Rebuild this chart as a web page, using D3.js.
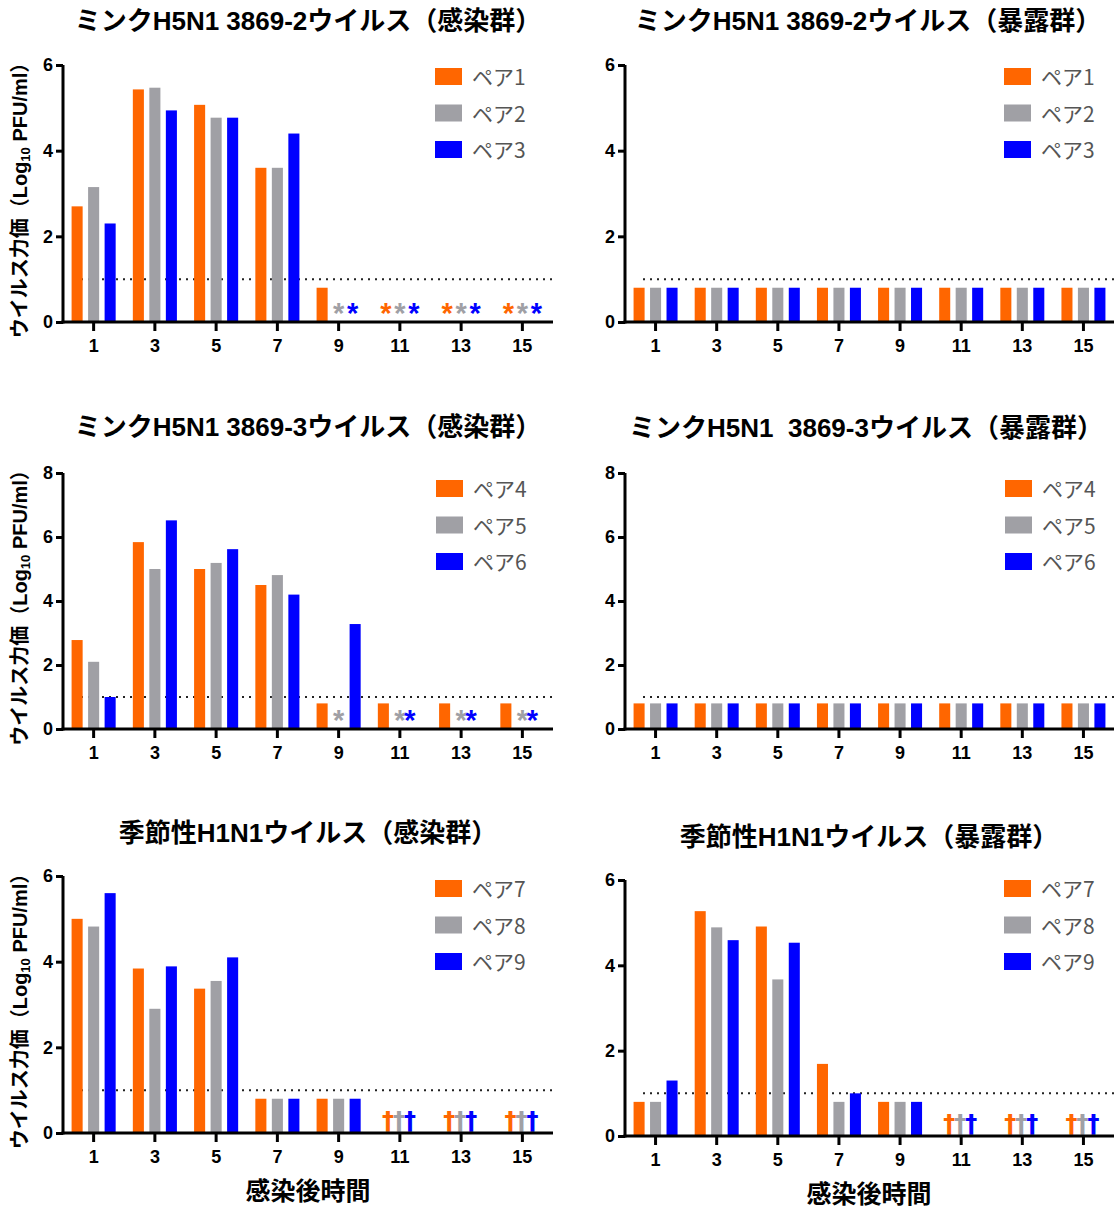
<!DOCTYPE html>
<html>
<head>
<meta charset="utf-8">
<script src="https://cdn.jsdelivr.net/npm/d3@7"></script>
<style>
  body { margin: 0; background: #fff; }
  svg { display: block; }
</style>
</head>
<body>
<script>
// days after infection
const days = [1, 3, 5, 7, 9, 11, 13, 15]
const colors = ["#ff6600", "#a0a0a5", "#0000ff"]

// mink H5N1 3869-2, infected (null = not detected, marker drawn)
const pairsA = ["ペア1", "ペア2", "ペア3"]
const infA1 = [2.7, 5.43, 5.07, 3.6, 0.8, null, null, null]
const infA2 = [3.15, 5.47, 4.77, 3.6, null, null, null, null]
const infA3 = [2.3, 4.94, 4.77, 4.4, null, null, null, null]
// mink H5N1 3869-2, exposed
const expA1 = [0.8, 0.8, 0.8, 0.8, 0.8, 0.8, 0.8, 0.8]
const expA2 = [0.8, 0.8, 0.8, 0.8, 0.8, 0.8, 0.8, 0.8]
const expA3 = [0.8, 0.8, 0.8, 0.8, 0.8, 0.8, 0.8, 0.8]

// mink H5N1 3869-3
const pairsB = ["ペア4", "ペア5", "ペア6"]
const infB1 = [2.78, 5.84, 5.0, 4.5, 0.8, 0.8, 0.8, 0.8]
const infB2 = [2.1, 5.0, 5.19, 4.81, null, null, null, null]
const infB3 = [1.0, 6.52, 5.62, 4.2, 3.28, null, null, null]
const expB1 = [0.8, 0.8, 0.8, 0.8, 0.8, 0.8, 0.8, 0.8]
const expB2 = [0.8, 0.8, 0.8, 0.8, 0.8, 0.8, 0.8, 0.8]
const expB3 = [0.8, 0.8, 0.8, 0.8, 0.8, 0.8, 0.8, 0.8]

// seasonal H1N1
const pairsC = ["ペア7", "ペア8", "ペア9"]
const infC1 = [5.0, 3.84, 3.37, 0.8, 0.8, null, null, null]
const infC2 = [4.82, 2.9, 3.55, 0.8, 0.8, null, null, null]
const infC3 = [5.6, 3.89, 4.1, 0.8, 0.8, null, null, null]
const expC1 = [0.8, 5.27, 4.91, 1.69, 0.8, null, null, null]
const expC2 = [0.8, 4.89, 3.67, 0.8, 0.8, null, null, null]
const expC3 = [1.3, 4.59, 4.53, 1.0, 0.8, null, null, null]

const limitOfDetection = 1
const yTicks6 = [0, 2, 4, 6]
const yTicks8 = [0, 2, 4, 6, 8]

const titles = [
    "ミンクH5N1 3869-2ウイルス（感染群）",
    "ミンクH5N1 3869-2ウイルス（暴露群）",
    "ミンクH5N1 3869-3ウイルス（感染群）",
    "ミンクH5N1  3869-3ウイルス（暴露群）",
    "季節性H1N1ウイルス（感染群）",
    "季節性H1N1ウイルス（暴露群）"
]
const xTitle = "感染後時間"

const latin = "'Liberation Sans', Arial, 'Noto Sans CJK JP', sans-serif"
const cjk = "'Liberation Sans', 'Noto Sans CJK JP', sans-serif"

const svg = d3.select("body").append("svg")
    .attr("width", 1114).attr("height", 1208)

const panels = [
    { series: [infA1, infA2, infA3], names: pairsA, yMax: 6, ticks: yTicks6, left: 63, right: 553, bottom: 322, top: 65,
      title: titles[0], titleX: 308, titleY: 30, mark: "*", markOff: [-14, 0, 14], yLabel: true, legendX: 435, legendY: 68 },
    { series: [expA1, expA2, expA3], names: pairsA, yMax: 6, ticks: yTicks6, left: 625, right: 1114, bottom: 322, top: 65,
      title: titles[1], titleX: 868, titleY: 30, mark: "*", markOff: [-14, 0, 14], yLabel: false, legendX: 1004, legendY: 68 },
    { series: [infB1, infB2, infB3], names: pairsB, yMax: 8, ticks: yTicks8, left: 63, right: 553, bottom: 729, top: 473,
      title: titles[2], titleX: 308, titleY: 436, mark: "*", markOff: [-10, 0, 10], yLabel: true, legendX: 436, legendY: 480 },
    { series: [expB1, expB2, expB3], names: pairsB, yMax: 8, ticks: yTicks8, left: 625, right: 1114, bottom: 729, top: 473,
      title: titles[3], titleX: 866, titleY: 437, mark: "*", markOff: [-10, 0, 10], yLabel: false, legendX: 1005, legendY: 480 },
    { series: [infC1, infC2, infC3], names: pairsC, yMax: 6, ticks: yTicks6, left: 63, right: 553, bottom: 1133, top: 876,
      title: titles[4], titleX: 308, titleY: 842, mark: "†", markOff: [-12, -1, 10], yLabel: true, xLabel: true, legendX: 435, legendY: 880 },
    { series: [expC1, expC2, expC3], names: pairsC, yMax: 6, ticks: yTicks6, left: 625, right: 1114, bottom: 1136, top: 880,
      title: titles[5], titleX: 869, titleY: 846, mark: "†", markOff: [-12, -1, 10], yLabel: false, xLabel: true, legendX: 1004, legendY: 880 }
]

panels.forEach(drawPanel)

function drawPanel(p) {
    let g = svg.append("g")
    let x = d3.scaleBand().domain(days).range([p.left, p.right])
    let sub = d3.scaleBand().domain([0, 1, 2]).range([0, x.bandwidth()])
        .paddingInner(0.33).paddingOuter(0.52)
    let y = d3.scaleLinear().domain([0, p.yMax]).range([p.bottom, p.top])

    // title
    g.append("text")
        .attr("x", p.titleX)
        .attr("y", p.titleY)
        .attr("text-anchor", "middle")
        .style("white-space", "pre")
        .style("font-family", cjk).style("font-weight", "bold").style("font-size", "26px")
        .text(p.title)

    // dotted limit line
    g.append("line")
        .attr("x1", p.left + 18).attr("x2", p.right)
        .attr("y1", y(limitOfDetection)).attr("y2", y(limitOfDetection))
        .attr("stroke", "#222").attr("stroke-width", 2)
        .attr("stroke-dasharray", "2,5")

    // bars
    p.series.forEach((vals, s) => {
        let rows = days.map((d, i) => ({ day: d, v: vals[i] }))
        g.selectAll(null)
            .data(rows.filter(r => r.v !== null)).enter()
            .append("rect")
            .attr("x", r => x(r.day) + sub(s))
            .attr("width", sub.bandwidth())
            .attr("y", r => y(r.v))
            .attr("height", r => y(0) - y(r.v))
            .attr("fill", colors[s])

        // markers for samples with no virus detected
        g.selectAll(null)
            .data(rows.filter(r => r.v === null)).enter()
            .append("text")
            .attr("x", r => x(r.day) + x.bandwidth() / 2 + p.markOff[s])
            .attr("y", p.mark === "*" ? p.bottom + 1 : p.bottom - 4)
            .attr("text-anchor", "middle")
            .attr("fill", colors[s])
            .style("font-family", p.mark === "*" ? latin : "'DejaVu Sans', sans-serif").style("font-weight", "bold")
            .style("font-size", p.mark === "*" ? "29px" : "24px")
            .text(p.mark)
    })

    // axes
    let xAxis = g.append("g")
        .attr("transform", `translate(0,${p.bottom})`)
        .call(d3.axisBottom(x).tickSize(9).tickSizeOuter(0).tickPadding(8))
    let yAxis = g.append("g")
        .attr("transform", `translate(${p.left},0)`)
        .call(d3.axisLeft(y).tickValues(p.ticks).tickFormat(d3.format("d"))
            .tickSize(7).tickSizeOuter(0).tickPadding(3))
    ;[xAxis, yAxis].forEach(a => {
        a.select(".domain").attr("stroke", "#000").attr("stroke-width", 3)
        a.selectAll(".tick line").attr("stroke", "#000").attr("stroke-width", 3)
        a.selectAll(".tick text").attr("fill", "#000")
            .style("font-family", latin).style("font-weight", "bold").style("font-size", "18px")
    })
    xAxis.select(".domain").attr("d", `M${p.left - 1.5},0H${p.right}`)
    yAxis.select(".domain").attr("d", `M0,${p.bottom + 1.5}V${p.top}`)

    // legend
    let leg = g.append("g")
    p.names.forEach((n, i) => {
        leg.append("rect")
            .attr("x", p.legendX).attr("y", p.legendY + i * 36.5)
            .attr("width", 27).attr("height", 17)
            .attr("fill", colors[i])
        leg.append("text")
            .attr("x", p.legendX + 37).attr("y", p.legendY + i * 36.5 + 17)
            .attr("fill", "#555")
            .style("font-family", "'Noto Sans CJK JP', sans-serif").style("font-size", "21px")
            .text(n)
    })

    if (p.yLabel) {
        let t = g.append("text")
            .attr("transform", `translate(27,${(p.top + p.bottom) / 2 + 2}) rotate(-90)`)
            .attr("text-anchor", "middle")
            .style("font-family", cjk).style("font-weight", "bold").style("font-size", "20px")
        t.append("tspan").text("ウイルス力価（Log")
        t.append("tspan").attr("font-size", "13px").attr("dy", 3).text("10")
        t.append("tspan").attr("dy", -3).text(" PFU/ml）")
    }
    if (p.xLabel) {
        g.append("text")
            .attr("x", p.titleX)
            .attr("y", p.bottom + 67)
            .attr("text-anchor", "middle")
            .style("font-family", cjk).style("font-weight", "bold").style("font-size", "25px")
            .text(xTitle)
    }
}
</script>
</body>
</html>
